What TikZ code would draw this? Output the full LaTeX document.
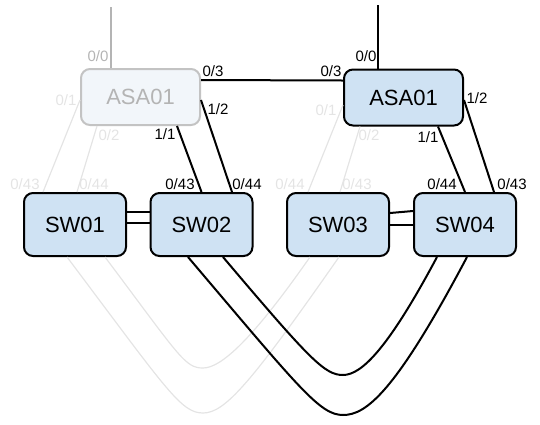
\documentclass[tikz,border=0pt]{standalone}
\usepackage{fontspec}
\setmainfont{Liberation Sans}
\usepackage{tikz}

\definecolor{boxblue}{HTML}{CFE2F3}
\definecolor{paleblue}{HTML}{F2F6FA}
\definecolor{paleline}{HTML}{E4E4E4}
\definecolor{paletext}{HTML}{B4B4B4}

\begin{document}
\begin{tikzpicture}[x=1pt,y=-1pt,
 device/.style={draw=black,line width=2pt,fill=boxblue,rounded corners=9pt,
  font=\fontsize{22}{25}\selectfont,inner sep=0pt},
 asa/.style={device,minimum width=119pt,minimum height=56pt},
 sw/.style={device,minimum width=102pt,minimum height=63pt},
 faded/.style={draw=paletext!80,fill=paleblue,text=paletext},
 port/.style={font=\fontsize{15}{17}\selectfont,inner sep=0pt},
 paleport/.style={port,text=paleline},
 link/.style={line width=2pt},
 palelink/.style={line width=1.2pt,draw=paleline}]
 \useasboundingbox (0,0) rectangle (540,424);
 % devices
 \node[asa,faded] (asaL) at (140.5,97) {ASA01};
 \node[asa] (asaR) at (403.5,97.5) {ASA01};
 \node[sw] (sw1) at (75,224.5) {SW01};
 \node[sw] (sw2) at (201.5,224.5) {SW02};
 \node[sw] (sw3) at (338,224.5) {SW03};
 \node[sw] (sw4) at (465,224.5) {SW04};
 \coordinate (upL) at (111,7);
 \coordinate (upR) at (378,5);
 % pale links of the left ASA
 \draw[palelink] ([yshift=-3pt]asaL.west) -- ([xshift=-32pt]sw1.north);
 \draw[palelink] ([xshift=-43.5pt]asaL.south) -- ([xshift=2pt]sw1.north);
 \draw[palelink] ([yshift=-7.5pt]asaR.west) -- ([xshift=-30pt]sw3.north);
 \draw[palelink] ([xshift=-43.5pt]asaR.south) -- ([xshift=2pt]sw3.north);
 \draw[palelink] ([xshift=30pt]sw1.south) .. controls +(75,100) and +(-18,0) .. (203,368)
  .. controls +(18,0) and +(-58,83) .. ([xshift=-28pt]sw3.south);
 \draw[palelink] ([xshift=-8pt]sw1.south) .. controls +(100,133) and +(-22,0) .. (203,413)
  .. controls +(22,0) and +(-88,126) .. ([xshift=1pt]sw3.south);
 % uplinks
 \draw[line width=1.5pt,draw=paletext] (upL) -- ([xshift=-29.5pt]asaL.north);
 \draw[link] (upR) -- ([xshift=-25.5pt]asaR.north);
 % links
 \draw[link] ([yshift=17pt]asaL.east) -- ([yshift=17pt]asaR.west);
 \draw[link] ([xshift=36.5pt]asaL.south) -- (sw2.north);
 \draw[link] ([yshift=-3pt]asaL.east) -- ([xshift=30.5pt]sw2.north);
 \draw[link] ([xshift=34.5pt]asaR.south) -- (sw4.north);
 \draw[link] ([yshift=-2.5pt]asaR.east) -- ([xshift=29pt]sw4.north);
 \draw[link] ([yshift=12.5pt]sw1.east) -- ([yshift=12.5pt]sw2.west);
 \draw[link] ([yshift=1.5pt]sw1.east) -- ([yshift=1.5pt]sw2.west);
 \draw[link] ([yshift=11.5pt]sw3.east) -- ([yshift=13.5pt]sw4.west);
 \draw[link] ([yshift=-0.5pt]sw3.east) -- ([yshift=-0.5pt]sw4.west);
 \draw[link] ([xshift=21.5pt]sw2.south) .. controls +(88,104) and +(-18,0) .. (343,375)
  .. controls +(19,0) and +(-48,90) .. ([xshift=-28pt]sw4.south);
 \draw[link] ([xshift=-13.5pt]sw2.south) .. controls +(112,132) and +(-23,0) .. (343,415)
  .. controls +(23,0) and +(-72,136) .. ([xshift=2pt]sw4.south);
 % port labels
 \node[port,text=paletext] (p00L) at (98,56) {0/0};
 \node[port] (p03L) at (213,71) {0/3};
 \node[port] (p12L) at (218,109) {1/2};
 \node[port] (p11L) at (165,134) {1/1};
 \node[paleport] (p01L) at (66,100) {0/1};
 \node[paleport] (p02L) at (109,135) {0/2};
 \node[port] (p43b) at (180,184) {0/43};
 \node[port] (p44b) at (247,184) {0/44};
 \node[paleport] (p43a) at (25,184) {0/43};
 \node[paleport] (p44a) at (94,184) {0/44};
 \node[port] (p00R) at (366,56) {0/0};
 \node[port] (p03R) at (331,71) {0/3};
 \node[port] (p12R) at (477,98) {1/2};
 \node[port] (p11R) at (428,137) {1/1};
 \node[paleport] (p01R) at (326,110) {0/1};
 \node[paleport] (p02R) at (369,135) {0/2};
 \node[port] (p44d) at (442,184) {0/44};
 \node[port] (p43d) at (512,184) {0/43};
 \node[paleport] (p44c) at (290,184) {0/44};
 \node[paleport] (p43c) at (357,184) {0/43};
\end{tikzpicture}
\end{document}
